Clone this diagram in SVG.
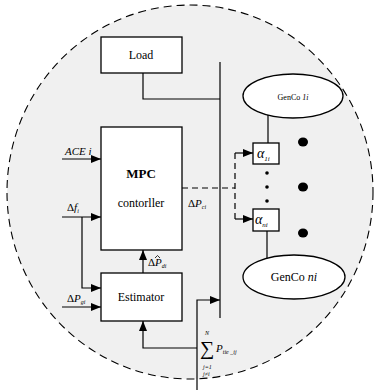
<svg xmlns="http://www.w3.org/2000/svg" width="374" height="390" viewBox="0 0 374 390">
<defs>
<style>
.box{fill:#fff;stroke:#000;stroke-width:1.3}
.ln{fill:none;stroke:#000;stroke-width:1.2}
.dash{fill:none;stroke:#000;stroke-width:1.2;stroke-dasharray:6,4}
text{font-family:"Liberation Serif","Times New Roman",serif;fill:#000}
.it{font-style:italic}
</style>
<marker id="ah" viewBox="0 0 10 8" refX="10" refY="4" markerWidth="10" markerHeight="8" markerUnits="userSpaceOnUse" orient="auto">
<path d="M0,0 L10,4 L0,8 Z" fill="#000"/>
</marker>
</defs>
<rect width="374" height="390" fill="#fff"/>
<ellipse cx="190" cy="192" rx="183" ry="187" fill="#f0f0f0" stroke="#000" stroke-width="1.1" stroke-dasharray="8,5"/>

<g id="connectors">
<path class="ln" d="M220,62 V318"/>
<path class="ln" d="M143,73 V99 H220"/>
<path class="ln" d="M62,159 H101" marker-end="url(#ah)"/>
<path class="ln" d="M62,217 H101" marker-end="url(#ah)"/>
<path class="ln" d="M82,217 V288 H101" marker-end="url(#ah)"/>
<path class="ln" d="M62,307 H101" marker-end="url(#ah)"/>
<path class="ln" d="M143,273 V250" marker-end="url(#ah)"/>
<path class="ln" d="M197,390 V300 H220" marker-end="url(#ah)"/>
<path class="ln" d="M197,348 H143 V321" marker-end="url(#ah)"/>
<path class="dash" d="M182,188 H235"/>
<path class="dash" d="M235,153 V219"/>
<path class="ln" d="M235,153 H253" marker-end="url(#ah)"/>
<path class="ln" d="M235,219 H253" marker-end="url(#ah)"/>
<path class="ln" d="M268,115 V143"/>
<path class="ln" d="M267,231 V259"/>
</g>

<g id="load">
<rect class="box" x="101" y="37" width="81" height="36"/>
<text x="141" y="59" font-size="12" text-anchor="middle" font-family="Liberation Serif">Load</text>
</g>

<g id="mpc">
<rect class="box" x="101" y="127" width="81" height="123"/>
<text x="141" y="178" font-size="13" font-weight="bold" text-anchor="middle" font-family="Liberation Serif">MPC</text>
<text x="141" y="207" font-size="12" text-anchor="middle" font-family="Liberation Serif">contorller</text>
</g>

<g id="estimator">
<rect class="box" x="101" y="273" width="81" height="48"/>
<text x="141" y="301" font-size="12" text-anchor="middle" font-family="Liberation Serif">Estimator</text>
</g>

<g id="genco1">
<ellipse cx="293" cy="96" rx="50" ry="22" fill="#fff" stroke="#000" stroke-width="1.3"/>
<text x="293" y="100" font-size="8" text-anchor="middle">GenCo <tspan class="it">1i</tspan></text>
</g>

<g id="gencon">
<ellipse cx="294" cy="277" rx="51" ry="22" fill="#fff" stroke="#000" stroke-width="1.3"/>
<text x="294" y="281" font-size="12" text-anchor="middle">GenCo <tspan class="it">ni</tspan></text>
</g>

<g id="alpha1">
<rect class="box" x="253" y="143" width="26" height="21"/>
<text class="it" x="257" y="158" font-size="14">α<tspan font-size="7" dy="3">1i</tspan></text>
</g>

<g id="alphan">
<rect class="box" x="253" y="209" width="26" height="22"/>
<text class="it" x="255" y="224" font-size="14">α<tspan font-size="7" dy="3">ni</tspan></text>
</g>

<g id="dots">
<circle cx="267" cy="173" r="1.8" fill="#000"/>
<circle cx="267" cy="187" r="1.8" fill="#000"/>
<circle cx="267" cy="201" r="1.8" fill="#000"/>
<ellipse cx="303" cy="142" rx="5" ry="4.5" fill="#000"/>
<ellipse cx="303" cy="187" rx="5" ry="4.5" fill="#000"/>
<ellipse cx="303" cy="233" rx="5" ry="4.5" fill="#000"/>
</g>

<g id="labels">
<text class="it" x="65" y="155" font-size="11">ACE i</text>
<text x="67" y="211" font-size="11">Δ<tspan class="it">f</tspan><tspan class="it" font-size="6" dy="2">i</tspan></text>
<text x="67" y="302" font-size="11">Δ<tspan class="it">P</tspan><tspan class="it" font-size="6" dy="2">gi</tspan></text>
<text x="148" y="266" font-size="11">Δ<tspan class="it">P</tspan><tspan class="it" font-size="6" dy="2">di</tspan></text>
<path d="M155,258 L157.5,255.5 L160,258" fill="none" stroke="#000" stroke-width="0.8"/>
<text x="188" y="207" font-size="11">Δ<tspan class="it">P</tspan><tspan class="it" font-size="6" dy="2">ci</tspan></text>
<text class="it" x="205" y="335" font-size="6">N</text>
<text x="200" y="355" font-size="20">∑</text>
<text class="it" x="216" y="352" font-size="11">P<tspan font-size="6" dy="2">tie _ij</tspan></text>
<text class="it" x="203" y="369" font-size="6">j=1</text>
<text class="it" x="203" y="376" font-size="6">j≠i</text>
</g>
</svg>
